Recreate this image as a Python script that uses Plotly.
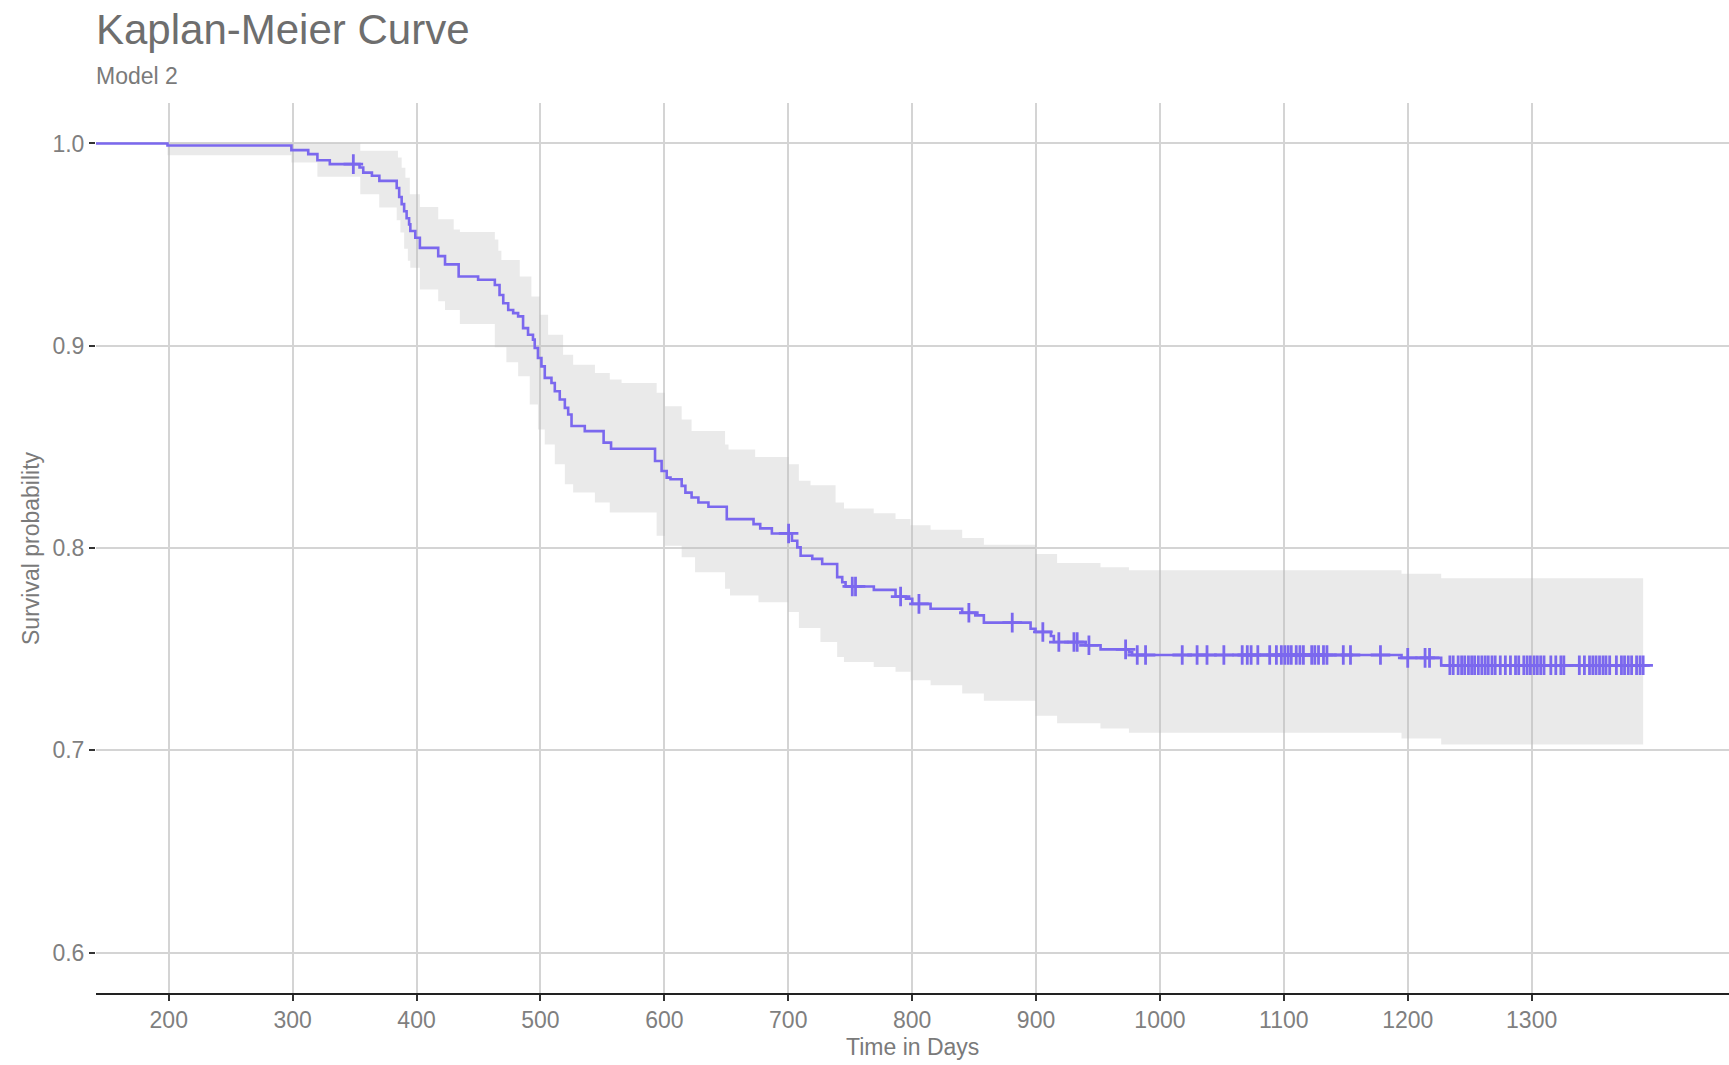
import numpy as np
import plotly.graph_objects as go

# ---- Kaplan-Meier estimate (step: value holds from time until next time) ----
km_time = [0, 199, 299, 312.6, 320, 330, 354, 357, 364, 370, 384, 386, 388, 390, 392, 394, 395, 399,
           402.7, 417.5, 423, 434, 449.7, 463.2, 467, 470, 474, 478, 482, 486, 490, 494, 495.4, 498,
           500.8, 503.5, 508.9, 511.6, 515.6, 519.7, 522.4, 525.1, 535.8, 551, 557, 592.5, 597.8,
           601.9, 605, 614, 617, 622, 627.5, 635.6, 650.4, 672, 677.4, 686.8, 703, 707.3, 710, 719.4,
           727.4, 739.5, 743.6, 746.3, 769.1, 786.6, 795, 800.1, 814.9, 840.4, 851, 857.9, 895.6,
           899.6, 912, 914.4, 940, 952.1, 975, 977.6, 1195, 1227, 1390]
km_surv = [1.0, 0.9990, 0.9967, 0.9947, 0.9917, 0.9898, 0.9881, 0.9856, 0.9840, 0.9815, 0.9780, 0.9735,
           0.9700, 0.9665, 0.9630, 0.9600, 0.9567, 0.9534, 0.9484, 0.9443, 0.9402, 0.9342, 0.9326,
           0.9300, 0.9251, 0.9210, 0.9177, 0.9161, 0.9145, 0.9087, 0.9054, 0.9030, 0.8989, 0.8939,
           0.8898, 0.8841, 0.8816, 0.8775, 0.8734, 0.8693, 0.8660, 0.8603, 0.8578, 0.8521, 0.8491,
           0.8430, 0.8381, 0.8348, 0.8340, 0.8307, 0.8274, 0.8250, 0.8225, 0.8204, 0.8143, 0.8118,
           0.8097, 0.8072, 0.8036, 0.8003, 0.7962, 0.7946, 0.7921, 0.7856, 0.7831, 0.7810, 0.7793,
           0.7760, 0.7749, 0.7724, 0.7700, 0.7680, 0.7667, 0.7631, 0.7601, 0.7585, 0.7565, 0.7535,
           0.7519, 0.7499, 0.7485, 0.7471, 0.7457, 0.7420, 0.7420]

# ---- censoring times ----
censor_time = [349, 700.3, 751.7, 754.3, 790.7, 805.5, 845.8, 880.8, 905.5, 918.4, 930.6, 933.2, 942.7,
               972.3, 981.7, 988.4, 1018, 1030, 1038, 1051.6, 1066.4, 1070.5, 1073.6, 1079, 1088.6, 1094,
               1098, 1100.8, 1103.5, 1106, 1110, 1113, 1115.8, 1122.5, 1125, 1128, 1132, 1134.8, 1148,
               1153.8, 1178, 1200, 1214, 1217.6, 1234, 1236.7, 1240.7, 1243.5, 1246, 1249, 1251.6, 1254,
               1257, 1259.8, 1262.5, 1265, 1268, 1270.6, 1274.7, 1278.8, 1282.9, 1287, 1289.6, 1293.7,
               1296.4, 1299, 1302, 1304.6, 1307.3, 1310, 1315.5, 1319.5, 1323.6, 1326, 1338.5, 1342.6,
               1346.7, 1349.4, 1352, 1354.8, 1357.6, 1360, 1363, 1368.4, 1372.5, 1375, 1378, 1380.7,
               1384.7, 1387.5, 1390]

# ---- confidence band (step functions) ----
upper_time = [0, 354.6, 385, 388, 391, 394.6, 402.7, 417.5, 430, 435, 463.2, 466, 468.5, 483.3, 492.7,
              499.5, 506.2, 518.3, 526.4, 544, 556, 565.5, 593.8, 600.5, 614, 622, 649, 651.8, 673.3,
              700.3, 708.6, 718, 738.2, 745, 769, 786.6, 798.7, 814.9, 840.4, 857.9, 899.6, 917, 952,
              975, 1195, 1227, 1390]
upper_val = [1.0, 0.9964, 0.9930, 0.9880, 0.9830, 0.9749, 0.9686, 0.9625, 0.9575, 0.9562, 0.9525,
             0.9470, 0.9424, 0.9342, 0.9243, 0.9153, 0.9054, 0.8956, 0.8906, 0.8865, 0.8833, 0.8816,
             0.8767, 0.8701, 0.8635, 0.8578, 0.8512, 0.8487, 0.8450, 0.8414, 0.8332, 0.8310, 0.8225,
             0.8195, 0.8172, 0.8143, 0.8112, 0.8090, 0.8049, 0.8016, 0.7970, 0.7926, 0.7905, 0.7890,
             0.7873, 0.7850, 0.7850]
lower_time = [0, 199, 299, 320, 354.6, 369.9, 384, 387, 390, 393, 395, 402.7, 417.5, 423, 435, 463.2,
              472.5, 482, 491.4, 498, 503.5, 511.6, 519.7, 526.4, 544, 556, 593.8, 600.5, 614, 624.8,
              649, 653, 676, 700, 708.6, 726, 739.5, 745, 769, 786.6, 798.7, 814.9, 840.4, 857.9,
              899.6, 917, 952, 975, 1195, 1227, 1390]
lower_val = [1.0, 0.9942, 0.9906, 0.9835, 0.9749, 0.9683, 0.9620, 0.9560, 0.9480, 0.9420, 0.9385,
             0.9278, 0.9220, 0.9177, 0.9107, 0.8992, 0.8918, 0.8849, 0.8709, 0.8586, 0.8512, 0.8414,
             0.8315, 0.8274, 0.8225, 0.8176, 0.8061, 0.8011, 0.7954, 0.7880, 0.7798, 0.7765, 0.7732,
             0.7683, 0.7604, 0.7535, 0.7461, 0.7437, 0.7412, 0.7388, 0.7346, 0.7322, 0.7281, 0.7245,
             0.7171, 0.7133, 0.7108, 0.7087, 0.7058, 0.7028, 0.7028]

x_ticks = [200, 300, 400, 500, 600, 700, 800, 900, 1000, 1100, 1200, 1300]
y_ticks = [0.6, 0.7, 0.8, 0.9, 1.0]
y_ticklabels = ["0.6", "0.7", "0.8", "0.9", "1.0"]

LINE = "#7B68EE"
FONT = "Liberation Sans, Arial, sans-serif"

# survival at censor times, looked up on the step curve
idx = np.searchsorted(np.array(km_time), np.array(censor_time), side="right") - 1
censor_surv = [km_surv[i] for i in idx]

fig = go.Figure()
fig.add_trace(go.Scatter(x=upper_time, y=upper_val, mode="lines", line=dict(width=0, shape="hv"),
                         hoverinfo="skip"))
fig.add_trace(go.Scatter(x=lower_time, y=lower_val, mode="lines", line=dict(width=0, shape="hv"),
                         fill="tonexty", fillcolor="rgba(185,185,185,0.30)", hoverinfo="skip"))
fig.add_trace(go.Scatter(x=km_time, y=km_surv, mode="lines", line=dict(color=LINE, width=2.6, shape="hv")))
fig.add_trace(go.Scatter(x=censor_time, y=censor_surv, mode="markers",
                         marker=dict(symbol="cross-thin", size=14, line=dict(color=LINE, width=2.8))))

fig.update_layout(
    width=1729, height=1065,
    margin=dict(l=96, r=0, t=103, b=72),
    plot_bgcolor="white", paper_bgcolor="white",
    showlegend=False,
    font=dict(family=FONT),
)
fig.update_xaxes(
    range=[141.3, 1459.3], tickvals=x_ticks, showgrid=True, gridcolor="#d4d4d4", gridwidth=1.5,
    zeroline=False, showline=True, linecolor="#222222", linewidth=1.5,
    ticks="outside", ticklen=6, tickwidth=1.5, tickcolor="#333333",
    tickfont=dict(size=23, color="#7f7f7f", family=FONT),
)
fig.update_yaxes(
    range=[0.58, 1.02], tickvals=y_ticks, ticktext=y_ticklabels, showgrid=True, gridcolor="#d4d4d4",
    gridwidth=1.5, zeroline=False, showline=False,
    ticks="outside", ticklen=6, tickwidth=1.5, tickcolor="#333333",
    tickfont=dict(size=23, color="#7f7f7f", family=FONT),
)

fig.add_annotation(text="Kaplan-Meier Curve", xref="paper", yref="paper", x=-0.001, y=1.0826,
                   xanchor="left", yanchor="middle", showarrow=False,
                   font=dict(size=42, color="#6e6e6e", family=FONT))
fig.add_annotation(text="Model 2", xref="paper", yref="paper", x=-0.001, y=1.0302,
                   xanchor="left", yanchor="middle", showarrow=False,
                   font=dict(size=23, color="#7a7a7a", family=FONT))
fig.add_annotation(text="Time in Days", xref="paper", yref="paper", x=0.5, y=-0.0610,
                   xanchor="center", yanchor="middle", showarrow=False,
                   font=dict(size=23, color="#7a7a7a", family=FONT))
fig.add_annotation(text="Survival probability", xref="paper", yref="paper", x=-0.0398, y=0.5,
                   xanchor="center", yanchor="middle", textangle=-90, showarrow=False,
                   font=dict(size=23, color="#7a7a7a", family=FONT))

fig.write_html(
    "out.html",
    config={"displayModeBar": False},
    post_script="document.body.style.margin='0';document.body.style.overflow='hidden';",
)
